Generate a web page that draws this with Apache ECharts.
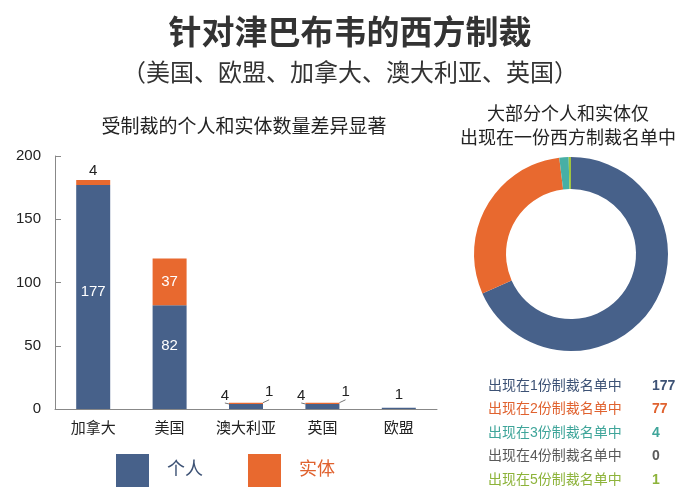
<!DOCTYPE html>
<html>
<head>
<meta charset="utf-8">
<style>html,body{margin:0;padding:0;background:#fff}#c{width:700px;height:492px}</style>
<script src="https://cdn.jsdelivr.net/npm/echarts@6/dist/echarts.min.js"></script>
</head>
<body>
<div id="c"></div>
<script>
var countries = ['加拿大', '美国', '澳大利亚', '英国', '欧盟'];
var individuals = [177, 82, 4, 4, 1];
var entities = [4, 37, 1, 1, 0];
var yTicks = [0, 50, 100, 150, 200];
var listNames = ['出现在1份制裁名单中', '出现在2份制裁名单中', '出现在3份制裁名单中', '出现在4份制裁名单中', '出现在5份制裁名单中'];
var listCounts = [177, 77, 4, 0, 1];
var listColors = ['#47618a', '#e8692f', '#47afa5', '#6b6868', '#9fc43f'];
var listTextColors = ['#3d5275', '#e0622f', '#3fa59a', '#5a5a5a', '#8db33a'];

var FONT = 'Liberation Sans, Noto Sans CJK SC, sans-serif';
var BLUE = '#47618a', ORANGE = '#e8692f';

function isSmall(i) { return individuals[i] + entities[i] < 20 && i !== 4; }
function indLabel(i) {
  var v = individuals[i];
  if (v >= 20) return { show: true, position: 'inside', color: '#fff', fontSize: 15 };
  if (i === 4) return { show: true, position: 'top', color: '#222', fontSize: 15 };
  return { show: true, position: 'left', distance: 3, color: '#222', fontSize: 15 };
}
function entLabel(i) {
  var v = entities[i];
  if (v === 0) return { show: false };
  if (v >= 20) return { show: true, position: 'inside', color: '#fff', fontSize: 15 };
  if (i === 0) return { show: true, position: 'top', color: '#222', fontSize: 15, distance: 2 };
  return { show: true, position: 'right', distance: 3, color: '#222', fontSize: 15 };
}
var lineOn = { show: true, length2: 0, lineStyle: { color: '#777', width: 1 } };
var lineOff = { show: false };

var indData = individuals.map(function (v, i) { return { value: v, label: indLabel(i), labelLine: isSmall(i) ? lineOn : lineOff }; });
var entData = entities.map(function (v, i) { return { value: v, label: entLabel(i), labelLine: isSmall(i) ? lineOn : lineOff }; });

var rich = {};
listNames.forEach(function (n, i) {
  rich['n' + i] = { color: listTextColors[i], fontSize: 14, width: 164, fontFamily: FONT };
  rich['v' + i] = { color: listTextColors[i], fontSize: 14, fontWeight: 'bold', fontFamily: FONT };
});

var chart = echarts.init(document.getElementById('c'));
chart.setOption({
  animation: false,
  textStyle: { fontFamily: FONT },
  title: [
    { text: '针对津巴布韦的西方制裁', left: 'center', top: 13, textStyle: { fontSize: 33, fontWeight: 'bold', color: '#333', fontFamily: FONT } },
    { text: '（美国、欧盟、加拿大、澳大利亚、英国）', left: 'center', top: 57, textStyle: { fontSize: 24, fontWeight: 'normal', color: '#333', fontFamily: FONT } },
    { text: '受制裁的个人和实体数量差异显著', left: 239, textAlign: 'center', top: 113, textStyle: { fontSize: 19, fontWeight: 'normal', color: '#222', fontFamily: FONT } },
    { text: '大部分个人和实体仅\n出现在一份西方制裁名单中', left: 563, textAlign: 'center', top: 98, textStyle: { fontSize: 18, fontWeight: 'normal', color: '#222', lineHeight: 24, fontFamily: FONT } }
  ],
  legend: [
    {
      data: [
        { name: '个人', textStyle: { color: '#3d5275' } },
        { name: '实体', textStyle: { color: '#e0622f' } }
      ],
      left: 116, top: 454, padding: 0, itemWidth: 33, itemHeight: 33, itemGap: 45, icon: 'rect',
      textStyle: { fontSize: 18, padding: [0, 0, 0, 13], fontFamily: FONT },
      selectedMode: false
    },
    {
      data: listNames.map(function (n) { return { name: n, icon: 'none' }; }),
      orient: 'vertical', left: 483, top: 379, padding: 0, itemWidth: 0, itemHeight: 14, itemGap: 9.5,
      height: 112,
      selectedMode: false,
      formatter: function (name) {
        var i = listNames.indexOf(name);
        return '{n' + i + '|' + name + '}{v' + i + '|' + listCounts[i] + '}';
      },
      textStyle: { rich: rich, fontSize: 14 }
    }
  ],
  grid: { left: 55, right: 263, top: 156, bottom: 83 },
  xAxis: {
    type: 'category', data: countries,
    axisLine: { lineStyle: { color: '#888', width: 1 } },
    axisTick: { inside: true, length: 6, lineStyle: { color: '#888' } },
    axisLabel: { color: '#222', fontSize: 15, margin: 12, interval: 0 }
  },
  yAxis: {
    type: 'value', min: 0, max: 200, interval: 50,
    splitLine: { show: false },
    axisLine: { show: true, lineStyle: { color: '#888', width: 1 } },
    axisTick: { show: true, inside: true, length: 6, lineStyle: { color: '#888' } },
    axisLabel: { color: '#222', fontSize: 15, margin: 14,
      formatter: function (v) { return yTicks.indexOf(v) >= 0 ? String(v) : ''; } }
  },
  series: [
    { name: '个人', type: 'bar', stack: 's', data: indData, barWidth: 34, itemStyle: { color: BLUE },
      labelLayout: function (p) {
        if (isSmall(p.dataIndex)) return { dx: 3, dy: -11 };
        if (p.dataIndex === 0) return { dy: -5 };
        if (p.dataIndex === 1) return { dy: -11 };
        return {};
      } },
    { name: '实体', type: 'bar', stack: 's', data: entData, barWidth: 34, itemStyle: { color: ORANGE },
      labelLayout: function (p) { return isSmall(p.dataIndex) ? { dx: -1, dy: -11 } : {}; } },
    {
      type: 'pie', center: [571, 254], radius: [65, 97], startAngle: 90, clockwise: true,
      label: { show: false }, labelLine: { show: false }, silent: true,
      itemStyle: { borderWidth: 0 },
      data: listNames.map(function (n, i) { return { name: n, value: listCounts[i], itemStyle: { color: listColors[i] } }; })
    }
  ]
});
</script>
</body>
</html>
